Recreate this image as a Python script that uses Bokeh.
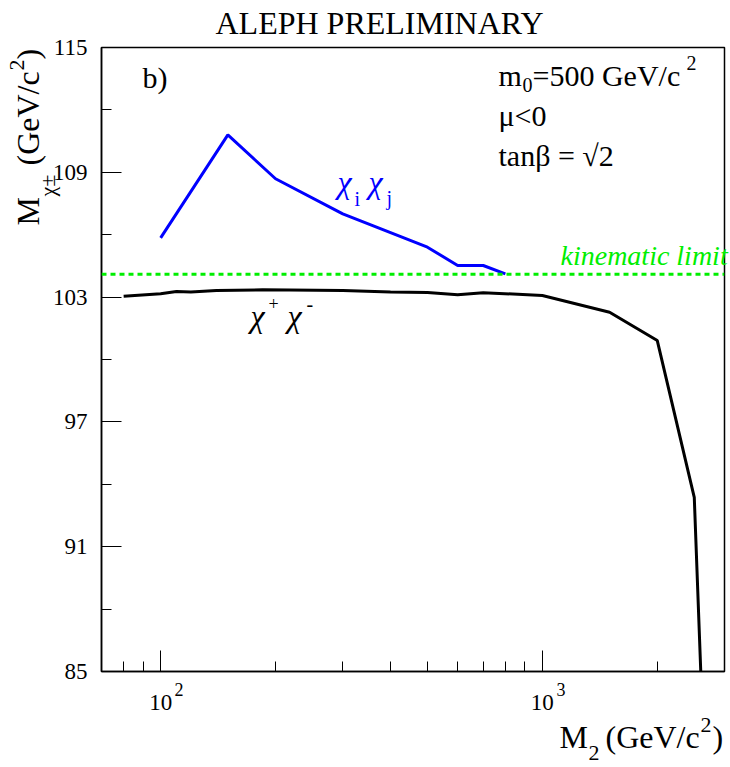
import math
from bokeh.plotting import figure
from bokeh.models import FixedTicker, Span, Range1d
from bokeh.core.properties import value
from bokeh.embed import file_html
from bokeh.resources import INLINE

# ---------------- data ----------------
m2_cc = [80, 100, 110, 120, 140, 185, 300, 400, 500, 600, 700, 1000, 1500, 2000, 2500, 2600]
mass_cc = [103.04, 103.16, 103.27, 103.24, 103.32, 103.35, 103.32, 103.24, 103.22, 103.11,
           103.21, 103.08, 102.27, 100.91, 93.37, 85.0]

m2_ij = [100, 150, 200, 300, 500, 600, 700, 800]
mass_ij = [105.85, 110.80, 108.69, 107.0, 105.4, 104.52, 104.52, 104.12]

kin_limit = 104.1

y_ticks = [85, 91, 97, 103, 109, 115]
y_minor = [88, 94, 100, 106, 112]
x_ticks = [100, 1000]
x_minor = [70, 80, 90, 200, 300, 400, 500, 600, 700, 800, 900, 2000, 3000]
x_tick_labels = {100: "10", 1000: "10"}
x_tick_exps = ["2", "3"]

FONT = "Liberation Serif"
XMIN, XMAX, YMIN, YMAX = 70, 3000, 85, 115
L, R, T, B = 101, 724, 47, 671  # frame edges in pixels

p = figure(width=730, height=767, x_axis_type="log",
           x_range=Range1d(XMIN, XMAX), y_range=Range1d(YMIN, YMAX),
           output_backend="svg", toolbar_location=None,
           min_border_left=L, min_border_right=730 - R,
           min_border_top=T, min_border_bottom=767 - B)
p.grid.visible = False
p.background_fill_color = "white"
p.border_fill_color = "white"
p.outline_line_color = "black"
p.outline_line_width = 1.5

xa = p.xaxis[0]
xa.ticker = FixedTicker(ticks=x_ticks, minor_ticks=x_minor)
xa.major_label_overrides = x_tick_labels
xa.major_tick_in = 21
xa.major_tick_out = 0
xa.minor_tick_in = 10
xa.minor_tick_out = 0
xa.axis_line_width = 1.5
xa.axis_line_color = "black"
xa.major_tick_line_color = "black"
xa.minor_tick_line_color = "black"
xa.major_label_text_font = FONT
xa.major_label_text_font_size = "23px"
xa.major_label_text_color = "black"
xa.major_label_standoff = 23

ya = p.yaxis[0]
ya.ticker = FixedTicker(ticks=y_ticks, minor_ticks=y_minor)
ya.major_tick_in = 20
ya.major_tick_out = 0
ya.minor_tick_in = 10
ya.minor_tick_out = 0
ya.axis_line_width = 1.5
ya.axis_line_color = "black"
ya.major_tick_line_color = "black"
ya.minor_tick_line_color = "black"
ya.major_label_text_font = FONT
ya.major_label_text_font_size = "23px"
ya.major_label_text_color = "black"
ya.major_label_standoff = 14

# curves
p.add_layout(Span(location=kin_limit, dimension="width", line_color="#00ee00",
                  line_width=3, line_dash="5 4"))
p.line(m2_ij, mass_ij, line_color="#0000ff", line_width=3)
p.line(m2_cc, mass_cc, line_color="black", line_width=3)


def px2data(sx, sy):
    lx = math.log10(XMIN) + (sx - L) / (R - L) * (math.log10(XMAX) - math.log10(XMIN))
    return 10 ** lx, YMAX - (sy - T) / (B - T) * (YMAX - YMIN)


def txt(s, sx, sy, size, color="black", align="left", angle=0.0, style="normal"):
    """sx: start of text, sy: vertical centre of the text line (pixels)."""
    x, y = px2data(sx, sy)
    p.text(x=[x], y=[y], text=[s], text_font=value(FONT),
           text_font_size=value(f"{size}px"), text_color=color,
           text_align=align, text_baseline="middle", angle=angle,
           text_font_style=style, level="overlay")


# title
txt("ALEPH PRELIMINARY", 379, 22, 32, align="center")

# tick label exponents
exp_x = [174, 556]
for ex, sx in zip(x_tick_exps, exp_x):
    txt(ex, sx, 689, 18)

# panel label and parameters
txt("b)", 142, 77, 30)
txt("m", 498, 75, 30)
txt("0", 522, 84, 20)
txt("=500 GeV/c", 532, 75, 30)
txt("2", 686, 62, 20)
txt("μ<0", 498, 115, 30)
txt("tanβ = √2", 498, 155, 30)

# curve labels
txt("χ", 337, 181, 32, color="#0000ff", style="italic")
txt("i", 354, 198, 20, color="#0000ff")
txt("χ", 368, 181, 32, color="#0000ff", style="italic")
txt("j", 386, 197, 20, color="#0000ff")

txt("χ", 250, 315, 32, style="italic")
txt("+", 268, 303, 18)
txt("χ", 287, 315, 32, style="italic")
txt("-", 306, 303, 20)

txt("kinematic limit", 560, 255, 28, color="#00ee00", style="italic")

# x axis title
txt("M", 559, 736, 32)
txt("2", 588, 752, 22)
txt("(GeV/c", 605, 736, 32)
txt("2", 700, 724, 22)
txt(")", 712, 736, 32)

# y axis title (rotated, reading upwards)
a = math.pi / 2
txt("M", 27, 225, 32, angle=a)
txt("χ±", 47, 196, 22, angle=a)
txt("(GeV/c", 27, 165, 32, angle=a)
txt("2", 16, 70, 22, angle=a)
txt(")", 27, 59, 32, angle=a)

open("out.html", "w").write(file_html(p, INLINE))
